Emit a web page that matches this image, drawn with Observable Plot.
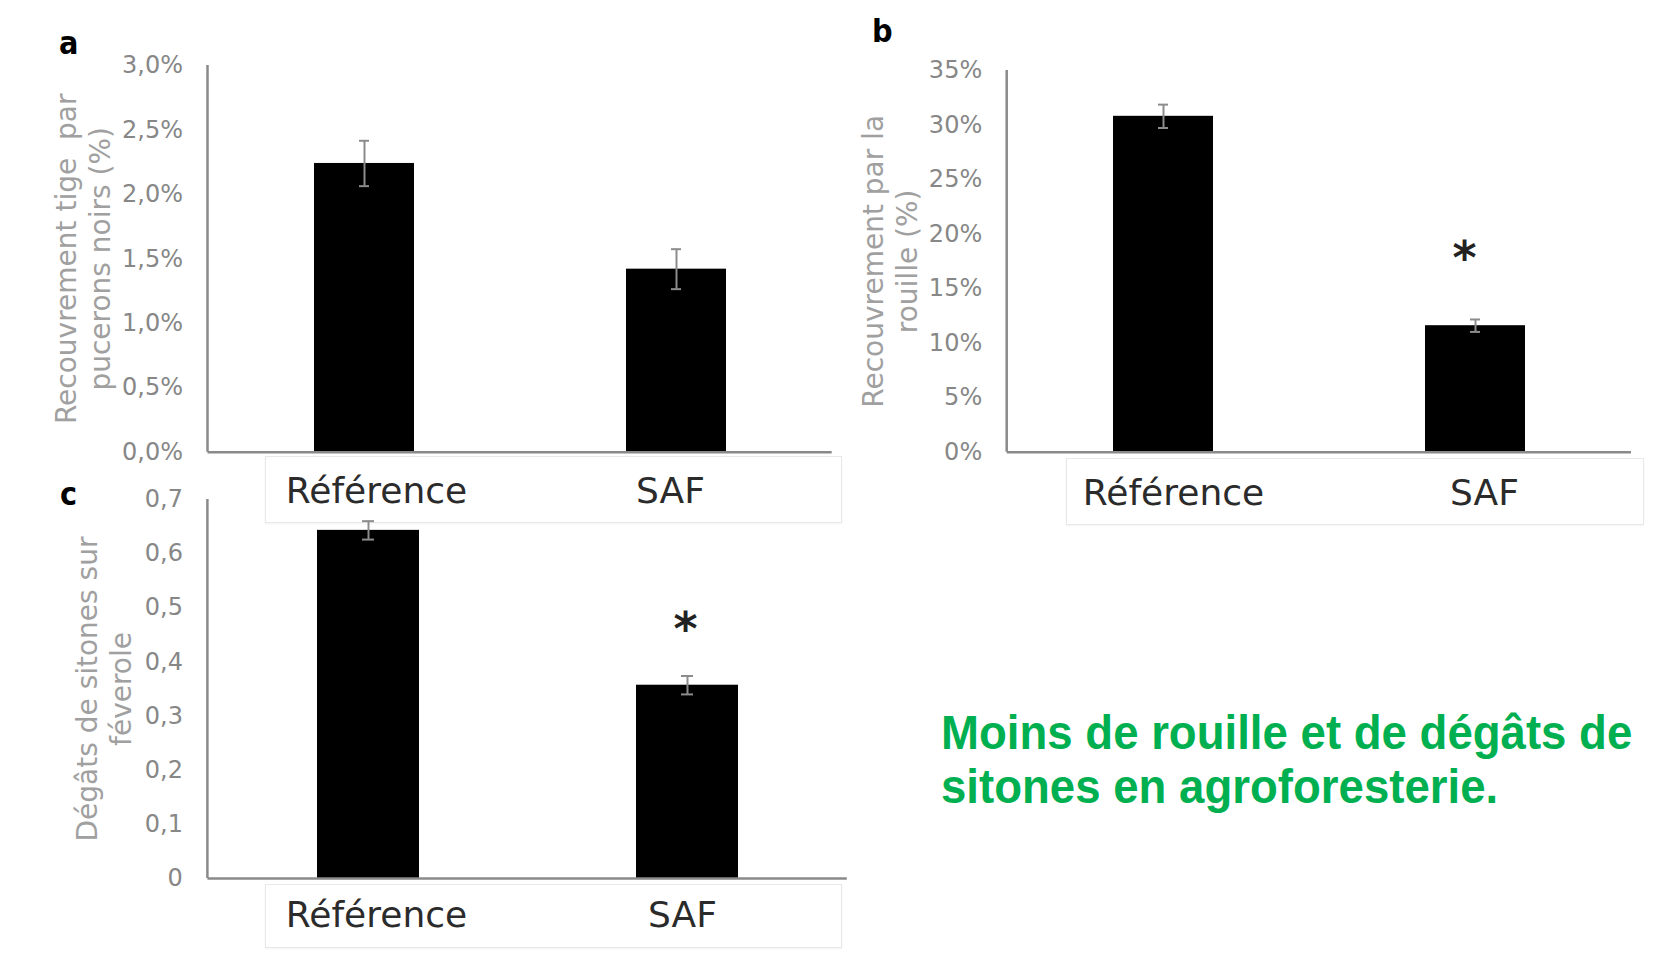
<!DOCTYPE html>
<html lang="fr">
<head>
<meta charset="utf-8">
<title>Ravageurs et maladies : parcelle de référence vs SAF</title>
<script src="https://cdn.jsdelivr.net/npm/d3@7"></script>
<script src="https://cdn.jsdelivr.net/npm/@observablehq/plot@0.6"></script>
<style>
  body { margin: 0; background: #fff; }
  #page { position: relative; width: 1666px; height: 962px; overflow: hidden; background: #fff;
          font-family: "DejaVu Sans", Verdana, sans-serif; }
  .panel { position: absolute; z-index: 2; }
  .panel svg { background: transparent; overflow: visible; }
  .labelbox { position: absolute; z-index: 1; background: #fff; box-sizing: border-box;
              border: 1px solid #e8e8e8; box-shadow: 0 1px 2px rgba(0,0,0,0.05); }
  .letter { position: absolute; z-index: 3; font-family: "Liberation Sans Narrow", "DejaVu Sans Condensed", sans-serif;
            font-weight: bold; font-size: 32px; line-height: 1; color: #000; }
  .note { position: absolute; z-index: 3; left: 941px; top: 705px; white-space: nowrap;
          font-family: "Liberation Sans", Arial, sans-serif; font-weight: bold; font-size: 49px;
          line-height: 54px; color: #00b050; transform: scaleX(0.93); transform-origin: left top; }
</style>
</head>
<body>
<div id="page">
  <div class="labelbox" style="left:265px;top:456px;width:577px;height:67px"></div>
  <div class="labelbox" style="left:1066px;top:458px;width:578px;height:67px"></div>
  <div class="labelbox" style="left:265px;top:884px;width:577px;height:64px"></div>
  <div id="panel-a" class="panel" style="left:0;top:0"></div>
  <div id="panel-b" class="panel" style="left:840px;top:0"></div>
  <div id="panel-c" class="panel" style="left:0;top:470px"></div>
  <div class="letter" style="left:59px;top:27px">a</div>
  <div class="letter" style="left:872px;top:15px">b</div>
  <div class="letter" style="left:60px;top:478px">c</div>
  <div class="note">Moins de rouille et de dégâts de<br>sitones en agroforesterie.</div>
</div>
<script>
// Modalités comparées
const categories = ["Référence", "SAF"];

// a — recouvrement de la tige par les pucerons noirs (%)
const aphidMean = [2.24, 1.42];
const aphidSE = [0.176, 0.155];
const aphidStars = ["", ""];
const aphidTicks = [0, 0.5, 1.0, 1.5, 2.0, 2.5, 3.0];

// b — recouvrement par la rouille (%)
const rustMean = [30.8, 11.6];
const rustSE = [1.07, 0.57];
const rustStars = ["", "*"];
const rustTicks = [0, 5, 10, 15, 20, 25, 30, 35];

// c — dégâts de sitones sur féverole (note)
const sitonaMean = [0.643, 0.357];
const sitonaSE = [0.017, 0.017];
const sitonaStars = ["", "*"];
const sitonaTicks = [0, 0.1, 0.2, 0.3, 0.4, 0.5, 0.6, 0.7];

const commaDecimal = (v, digits) => v.toFixed(digits).replace(".", ",");

function rowsOf(means, ses, stars) {
  return categories.map((cat, i) => ({cat, mean: means[i], se: ses[i], star: stars[i]}));
}

// Trait vertical de l'axe des ordonnées, sur toute la hauteur du cadre
function yAxisLine(index, scales, values, dims) {
  const line = document.createElementNS("http://www.w3.org/2000/svg", "line");
  line.setAttribute("x1", dims.marginLeft);
  line.setAttribute("x2", dims.marginLeft);
  line.setAttribute("y1", dims.marginTop);
  line.setAttribute("y2", dims.height - dims.marginBottom);
  line.setAttribute("stroke", "#8a8a8a");
  line.setAttribute("stroke-width", 2.5);
  return line;
}

function barPanel(o) {
  const rows = rowsOf(o.means, o.ses, o.stars);
  const errColor = "#8c8c8c";
  const capInset = 45;
  // one axis mark per category so that each label can carry its own offset
  const categoryAxes = categories.map((cat, i) =>
    Plot.axisX({ticks: [cat], tickSize: 0, tickPadding: o.labelPad, dx: o.labelDx[i],
                fontSize: 36, color: "#2b2b2b", label: null}));
  return Plot.plot({
    width: o.width,
    height: o.height,
    marginLeft: o.margin[0],
    marginRight: o.margin[1],
    marginTop: o.margin[2],
    marginBottom: o.margin[3],
    style: {background: "transparent", overflow: "visible", fontFamily: "'DejaVu Sans', Verdana, sans-serif"},
    x: {domain: categories, paddingInner: 0.68, paddingOuter: 0.34, axis: null},
    y: {domain: o.domain, axis: null},
    marks: [
      Plot.barY(rows, {x: "cat", y: "mean", fill: "#000"}),
      Plot.ruleX(rows, {x: "cat", y1: d => d.mean - d.se, y2: d => d.mean + d.se, stroke: errColor, strokeWidth: 2}),
      Plot.tickY(rows, {x: "cat", y: d => d.mean + d.se, stroke: errColor, strokeWidth: 2, insetLeft: capInset, insetRight: capInset}),
      Plot.tickY(rows, {x: "cat", y: d => d.mean - d.se, stroke: errColor, strokeWidth: 2, insetLeft: capInset, insetRight: capInset}),
      Plot.ruleY([0], {stroke: "#8a8a8a", strokeWidth: 2.5}),
      yAxisLine,
      Plot.axisY({ticks: o.ticks, tickFormat: o.format, tickSize: 0, tickPadding: 25,
                  fontSize: 24, color: "#878787", label: null}),
      ...categoryAxes,
      Plot.text([o.title], {frameAnchor: "left", text: d => d, rotate: -90, dx: o.titleDx,
                  fontSize: 28, fill: "#a0a0a0", lineHeight: 1.22, textAnchor: "middle", lineAnchor: "middle"}),
      Plot.text(rows.filter(d => d.star), {x: "cat", y: d => d.mean + d.se, text: "star",
                  dy: o.starDy, dx: o.starDx, fontSize: 46, fontWeight: "bold", fill: "#222", lineAnchor: "middle"})
    ]
  });
}

document.getElementById("panel-a").append(barPanel({
  means: aphidMean, ses: aphidSE, stars: aphidStars,
  domain: [0, 3.0], ticks: aphidTicks, format: d => commaDecimal(d, 1) + "%",
  title: "Recouvrement tige  par\npucerons noirs (%)",
  width: 860, height: 540, margin: [207.5, 28.3, 65, 88.3],
  labelPad: 25, labelDx: [12, -6], titleDx: -126, starDy: -60, starDx: 0
}));

document.getElementById("panel-b").append(barPanel({
  means: rustMean, ses: rustSE, stars: rustStars,
  domain: [0, 35], ticks: rustTicks, format: d => d + "%",
  title: "Recouvrement par la\nrouille (%)",
  width: 826, height: 540, margin: [166.7, 35, 70, 88.3],
  labelPad: 27, labelDx: [10, 9], titleDx: -118.5, starDy: -60, starDx: -11
}));

document.getElementById("panel-c").append(barPanel({
  means: sitonaMean, ses: sitonaSE, stars: sitonaStars,
  domain: [0, 0.7], ticks: sitonaTicks, format: d => d === 0 ? "0" : commaDecimal(d, 1),
  title: "Dégâts de sitones sur\nféverole",
  width: 860, height: 492, margin: [207.4, 13.2, 29, 84],
  labelPad: 23, labelDx: [8, -5], titleDx: -105, starDy: -46, starDx: -2
}));
</script>
</body>
</html>
